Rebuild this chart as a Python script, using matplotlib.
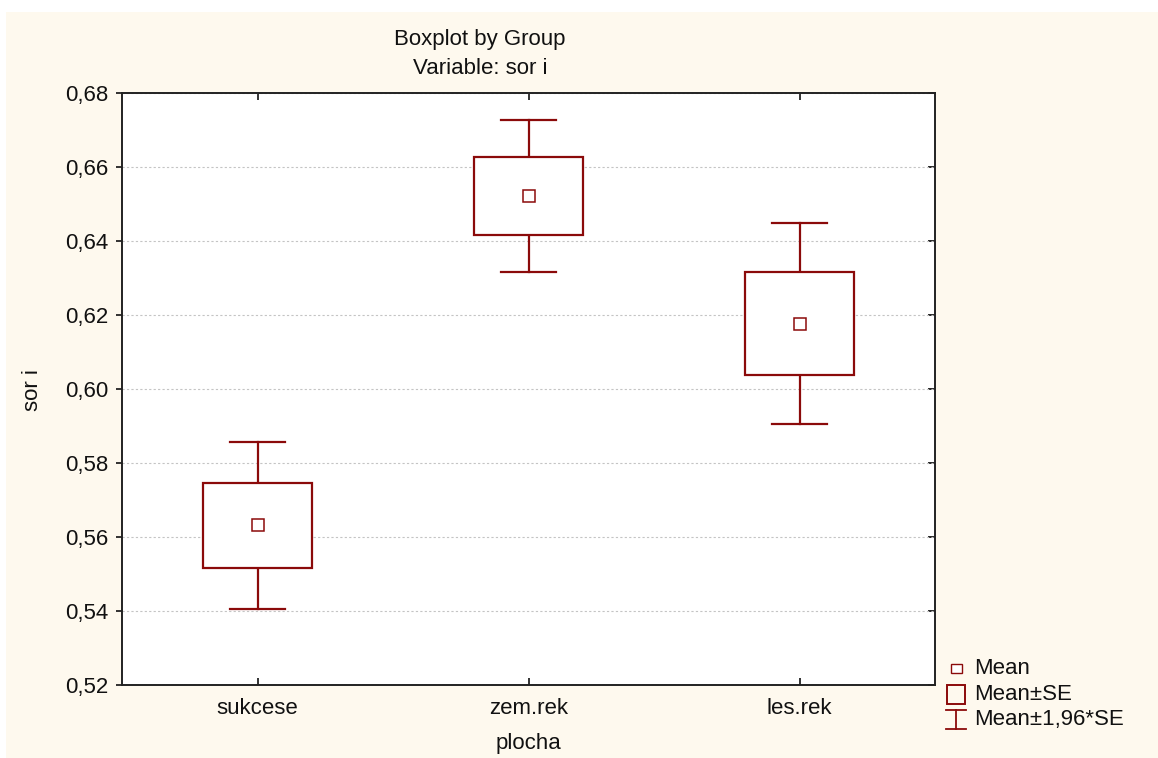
import matplotlib
matplotlib.use("Agg")
import matplotlib.pyplot as plt
from matplotlib.patches import Rectangle
from matplotlib.lines import Line2D
from matplotlib.ticker import FuncFormatter, MultipleLocator

plt.rcParams['font.family'] = ['Liberation Sans', 'DejaVu Sans']

# Group statistics for variable "sor i"
groups = ["sukcese", "zem.rek", "les.rek"]
means = [0.5632, 0.6522, 0.6177]
se = [0.0115, 0.0105, 0.0138]
z = 1.96

W, H = 1158, 758
DARK_RED = "#8B0A0A"
CREAM = "#FEF9EE"
TXT = "#111111"
FS = 16

fig = plt.figure(figsize=(W / 100, H / 100), dpi=100, facecolor="white")

# pixel-space canvas for background and legend
bg = fig.add_axes([0, 0, 1, 1], zorder=0)
bg.set_xlim(0, W)
bg.set_ylim(H, 0)
bg.axis("off")
bg.add_patch(Rectangle((6, 12), W - 6, H - 12, facecolor=CREAM, edgecolor="none"))

left, right, top, bottom = 122, 935, 93, 685
ax = fig.add_axes([left / W, (H - bottom) / H, (right - left) / W, (bottom - top) / H], zorder=1)
ax.set_facecolor("white")

box_w = 0.40
cap_w = 0.20
for i, (m, s) in enumerate(zip(means, se)):
    lo_se, hi_se = m - s, m + s
    lo_ci, hi_ci = m - z * s, m + z * s
    # whiskers
    ax.plot([i, i], [hi_se, hi_ci], color=DARK_RED, lw=1.6, zorder=3)
    ax.plot([i, i], [lo_ci, lo_se], color=DARK_RED, lw=1.6, zorder=3)
    ax.plot([i - cap_w / 2, i + cap_w / 2], [hi_ci, hi_ci], color=DARK_RED, lw=1.6, zorder=3)
    ax.plot([i - cap_w / 2, i + cap_w / 2], [lo_ci, lo_ci], color=DARK_RED, lw=1.6, zorder=3)
    # SE box
    ax.add_patch(Rectangle((i - box_w / 2, lo_se), box_w, hi_se - lo_se,
                           facecolor="white", edgecolor=DARK_RED, lw=1.6, zorder=3))
    # mean marker
    ax.plot([i], [m], marker="s", ms=8.5, mfc="white", mec=DARK_RED, mew=1.1, zorder=4)

ax.set_xlim(-0.5, 2.5)
ax.set_ylim(0.52, 0.68)
ax.yaxis.set_major_locator(MultipleLocator(0.02))
ax.yaxis.set_major_formatter(FuncFormatter(lambda v, p: f"{v:.2f}".replace(".", ",")))
ax.set_xticks(range(len(groups)))
ax.set_xticklabels(groups)

ax.grid(axis="y", color="#c4c4c4", linestyle=(0, (2, 2)), lw=0.8, zorder=0)
for sp in ax.spines.values():
    sp.set_color("#222222")
    sp.set_linewidth(1.4)

ax.tick_params(axis="y", which="both", direction="out", length=4, width=1.2,
               labelsize=FS, pad=6, colors=TXT, right=False)
ax.tick_params(axis="x", direction="in", length=5, width=1.2, top=True,
               labelsize=FS, pad=9, colors=TXT)
# inward ticks on right spine
ax2 = ax.secondary_yaxis("right")
ax2.yaxis.set_major_locator(MultipleLocator(0.02))
ax2.tick_params(direction="in", length=5, width=1.2, labelright=False)
ax2.spines["right"].set_visible(False)

fig.text(528 / W, 1 - 744 / H, "plocha", fontsize=FS, ha="center", va="center", color=TXT)
fig.text(33 / W, 1 - 390 / H, "sor i", rotation=90, fontsize=FS,
         ha="center", va="center", color=TXT)

fig.text(480 / W, 1 - 40 / H, "Boxplot by Group", fontsize=FS,
         ha="center", va="center", color=TXT)
fig.text(480 / W, 1 - 68 / H, "Variable: sor i", fontsize=FS,
         ha="center", va="center", color=TXT)

# legend drawn in pixel space
bg.add_patch(Rectangle((951, 664), 11, 9, facecolor="white", edgecolor=DARK_RED, lw=1.0, zorder=5))
bg.add_patch(Rectangle((947, 685), 18, 19, facecolor="none", edgecolor=DARK_RED, lw=1.4, zorder=5))
bg.add_line(Line2D([946, 966], [710, 710], color=DARK_RED, lw=1.3, zorder=5))
bg.add_line(Line2D([946, 966], [729, 729], color=DARK_RED, lw=1.3, zorder=5))
bg.add_line(Line2D([956, 956], [710, 729], color=DARK_RED, lw=1.3, zorder=5))
for ytxt, txt in [(669, "Mean"), (694, "Mean±SE"), (719, "Mean±1,96*SE")]:
    bg.text(974, ytxt, txt, fontsize=FS, ha="left", va="center", color=TXT, zorder=5)

fig.savefig("out.png", dpi=100, facecolor="white")
